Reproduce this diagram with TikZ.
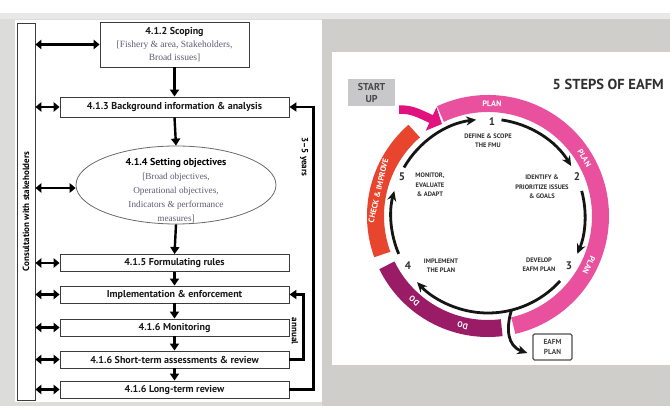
\documentclass[tikz,border=0pt]{standalone}
\usepackage{fontspec}
\usepackage{graphicx}
\setmainfont{Liberation Serif}
\newfontfamily\hd{PT Sans}
\usetikzlibrary{arrows.meta,shapes.geometric,calc}

\definecolor{framegray}{HTML}{DCDCDA}
\definecolor{stripgray}{HTML}{E8E8E8}
\definecolor{panelgray}{HTML}{CFCECA}
\definecolor{boxline}{HTML}{3C3C3C}
\definecolor{ovalline}{HTML}{6A6A6A}
\definecolor{bracket}{HTML}{5E5C76}
\definecolor{planpink}{HTML}{E9519F}
\definecolor{doplum}{HTML}{9B1C66}
\definecolor{checkred}{HTML}{E8452F}
\definecolor{cue}{HTML}{E1127D}
\definecolor{stepgray}{HTML}{303030}
\definecolor{arrowink}{HTML}{151515}
\definecolor{startfill}{HTML}{C8C8CA}
\definecolor{starttext}{HTML}{484848}

\tikzset{
  stage/.style={draw=boxline, line width=0.9pt, fill=white, minimum width=229pt,
    minimum height=17pt, inner sep=0pt, text=black!90,
    font=\hd\bfseries\fontsize{10}{13}\selectfont},
  flow/.style={line width=2.4pt, -{Triangle[length=7pt,width=9pt]}},
  both/.style={line width=2.4pt, {Triangle[length=6pt,width=9.5pt]}-{Triangle[length=6pt,width=9.5pt]}},
  sidelabel/.style={rotate=-90, font=\hd\bfseries\fontsize{9}{10}\selectfont},
  ring/.style={line width=17pt},
  ringtxt/.style={text=white, font=\hd\bfseries\fontsize{8}{9}\selectfont, inner sep=0pt},
  cyclearrow/.style={line width=2.8pt, arrowink, -{Stealth[length=10pt,width=9pt]}},
  stepnum/.style={text=stepgray, font=\hd\bfseries\fontsize{11}{12}\selectfont, inner sep=0pt},
  steptxt/.style={text=stepgray, align=center, inner sep=0pt,
    font=\hd\bfseries\fontsize{6.5}{9.5}\selectfont},
}

\begin{document}
\begin{tikzpicture}[x=1pt, y=1pt, yscale=-1]
\useasboundingbox (0,0) rectangle (670,406);

% backgrounds
\fill[framegray] (0,13) rectangle (670,406);
\fill[stripgray] (0,13) rectangle (670,19);
\fill[panelgray] (322,19) rectangle (670,406);
\fill[white] (15,20) rectangle (322,402);
\fill[white] (332,52) rectangle (670,365);

% ---------- management cycle flow chart ----------
\node[draw=boxline, line width=0.9pt, minimum width=18pt, minimum height=377pt, inner sep=0pt]
  (cons) at (26,211.5) {\rotatebox{90}{\hd\bfseries\fontsize{9}{10}\selectfont Consultation with stakeholders}};

\node[stage, minimum width=149pt, minimum height=45pt, align=center] (sc) at (174.5,44.5)
  {4.1.2 Scoping\\ {\rmfamily\mdseries\fontsize{9.5}{13}\selectfont\color{bracket}[Fishery \& area, Stakeholders,}\\
   {\rmfamily\mdseries\fontsize{9.5}{12}\selectfont\color{bracket}Broad issues]}};
\node[stage, minimum height=20pt] (bg) at (174.5,107) {4.1.3 Background information \& analysis};
\node[ellipse, draw=ovalline, line width=0.8pt, fill=white, minimum width=200pt, minimum height=78pt, inner sep=0pt]
  (obj) at (176,185) {};
\node[align=center, inner sep=0pt, font=\hd\bfseries\fontsize{10}{14}\selectfont] (objtxt) at (176,191)
  {4.1.4 Setting objectives\\
   {\rmfamily\mdseries\fontsize{9.2}{13.5}\selectfont\color{bracket}[Broad objectives,}\\
   {\rmfamily\mdseries\fontsize{9.2}{13.5}\selectfont\color{bracket}Operational objectives,}\\
   {\rmfamily\mdseries\fontsize{9.2}{13.5}\selectfont\color{bracket}Indicators \& performance}\\
   {\rmfamily\mdseries\fontsize{9.2}{13.5}\selectfont\color{bracket}measures]}};
\node[stage] (form) at (174.5,263) {4.1.5 Formulating rules};
\node[stage] (impl) at (174.5,294.5) {Implementation \& enforcement};
\node[stage] (mon) at (174.5,327.5) {4.1.6 Monitoring};
\node[stage] (st) at (174.5,359.5) {4.1.6 Short-term assessments \& review};
\node[stage] (lt) at (174.5,389.5) {4.1.6 Long-term review};

\draw[flow] (sc.south) -- (bg.north);
\draw[flow] (bg.south) -- (obj.north);
\draw[flow] (obj.south) -- (form.north);
\draw[flow] (form.south) -- (impl.north);
\draw[flow] (impl.south) -- (mon.north);
\draw[flow] (mon.south) -- (st.north);
\draw[flow] (st.south) -- (lt.north);

\foreach \n in {sc,bg,form,impl,mon,st,lt}
  \draw[both] (cons.east |- \n.west) -- (\n.west);
\draw[both] ($(cons.east |- obj.west)+(0,3)$) -- ($(obj.west)+(0,3)$);

\draw[flow] (lt.east) -- ++(24,0) |- (bg.east);
\draw[flow] (st.east) -- ++(14,0) |- (impl.east);
\node[sidelabel] (years) at (304,157) {3–5 years};
\node[sidelabel] (annual) at (295,331) {annual};

% ---------- five steps cycle ----------
\node[fill=startfill, minimum width=47pt, minimum height=27pt, align=center, inner sep=0pt,
  text=starttext, font=\hd\bfseries\fontsize{10}{11.5}\selectfont] (start) at (371.5,93) {START\\UP};
\node[anchor=east, inner sep=0pt, text=stepgray, font=\hd\bfseries\fontsize{14.5}{16}\selectfont]
  (title) at (664,84) {5 STEPS OF EAFM};

\begin{scope}[shift={(488,216)}, yscale=-1]
  \draw[ring, planpink] (115:112.5) arc[start angle=115, end angle=-77, radius=112.5];
  \draw[ring, doplum] (-83:112.5) arc[start angle=-83, end angle=-154, radius=112.5];
  \draw[ring, checkred] (200:112.5) arc[start angle=200, end angle=131, radius=112.5];

  \node[ringtxt, rotate=-2] (plan1) at (88:112.5) {PLAN};
  \node[ringtxt, rotate=-59] (plan2) at (31:112.5) {PLAN};
  \node[ringtxt, rotate=-116] (plan3) at (-26:112.5) {PLAN};
  \node[ringtxt, rotate=-193] (do1) at (-103:112.5) {DO};
  \node[ringtxt, rotate=-221] (do2) at (-131:112.5) {DO};
  \node[ringtxt, rotate=77] (check) at (167:112.5) {CHECK \& IMPROVE};

  \draw[cyclearrow] (150:97) arc[start angle=150, end angle=97, radius=97];
  \draw[cyclearrow] (82:97) arc[start angle=82, end angle=31, radius=97];
  \draw[cyclearrow] (15:97) arc[start angle=15, end angle=-23, radius=97];
  \draw[cyclearrow] (-42:97) arc[start angle=-42, end angle=-137, radius=97];
  \draw[cyclearrow] (203:97) arc[start angle=203, end angle=165, radius=97];
  \coordinate (fork) at (-76:97);
\end{scope}

\node[draw=stepgray!85, line width=1.3pt, rounded corners=1.5pt, fill=white, minimum width=39pt,
  minimum height=26pt, inner sep=0pt, align=center, text=stepgray!90,
  font=\hd\bfseries\fontsize{7.3}{9.5}\selectfont] (eafm) at (552.5,347) {EAFM\\PLAN};
\coordinate (eafmin) at ($(eafm.west)+(-5,6)$);
\draw[cyclearrow] (fork) .. controls (506,328) and (507,346) .. (eafmin);

% entry cue from the start-up box
\coordinate (cuefrom) at ($(start.south east)+(4,3)$);
\coordinate (entry) at (442,124);
\draw[cue, line width=8.5pt, -{Triangle[length=12pt,width=25pt]}] (cuefrom) .. controls (411,109) and (418,113) .. (entry);

\node[stepnum] (n1) at (492,122) {1};
\node[stepnum] (n2) at (577,177) {2};
\node[stepnum] (n3) at (569,266) {3};
\node[stepnum] (n4) at (408,266) {4};
\node[stepnum] (n5) at (402,177) {5};

\node[steptxt] (t1) at (488,140.5) {DEFINE \& SCOPE\\THE FMU};
\node[steptxt] (t2) at (542,187) {IDENTIFY \&\\PRIORITIZE ISSUES\\\& GOALS};
\node[steptxt] (t3) at (539,264.5) {DEVELOP\\EAFM PLAN};
\node[steptxt] (t4) at (441,265.5) {IMPLEMENT\\THE PLAN};
\node[steptxt] (t5) at (430,185) {MONITOR,\\EVALUATE\\\& ADAPT};
\end{tikzpicture}
\end{document}
